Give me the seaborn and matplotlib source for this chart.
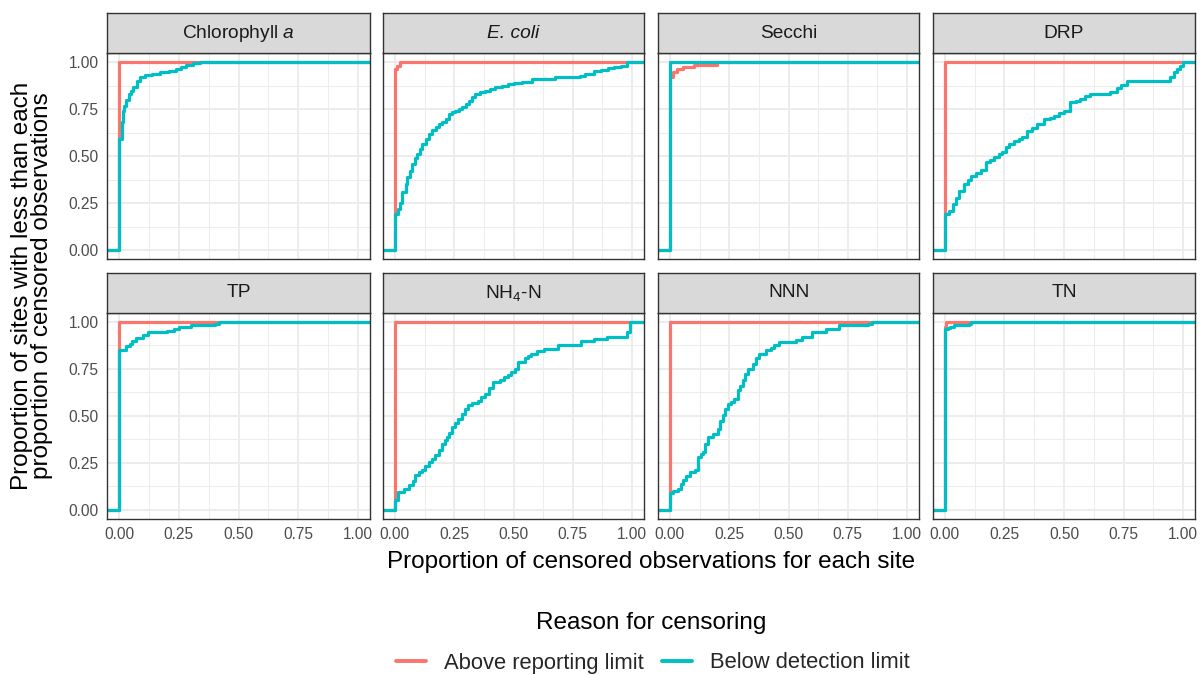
import numpy as np
import pandas as pd
import matplotlib
matplotlib.use("Agg")
import matplotlib.pyplot as plt
import seaborn as sns
from matplotlib.lines import Line2D

sns.set_style("white")
plt.rcParams["font.family"] = ["Liberation Sans", "DejaVu Sans"]
plt.rcParams["mathtext.fontset"] = "custom"
plt.rcParams["mathtext.rm"] = "Liberation Sans"
plt.rcParams["mathtext.it"] = "Liberation Sans:italic"

# ---------------- data ----------------
PARAMS = ["Chlorophyll a", "E. coli", "Secchi", "DRP", "TP", "NH4-N", "NNN", "TN"]
STRIP_LABELS = ["Chlorophyll $\\mathit{a}$", "E. coli", "Secchi", "DRP",
                "TP", "NH$_4$-N", "NNN", "TN"]
STRIP_STYLE = ["normal", "italic", "normal", "normal", "normal", "normal", "normal", "normal"]
REASONS = ["Above reporting limit", "Below detection limit"]
COLORS = ["#F8766D", "#00BFC4"]
TICKS = [0.0, 0.25, 0.5, 0.75, 1.0]
TICK_LABELS = ["0.00", "0.25", "0.50", "0.75", "1.00"]

# ECDF knots (proportion censored, cumulative proportion of sites)
chla_above_x = [0.0]
chla_above_y = [1.0]
chla_below_x = [0.0, 0.012, 0.016, 0.022, 0.03, 0.04, 0.05, 0.06, 0.075, 0.09, 0.11, 0.14,
                0.17, 0.21, 0.24, 0.26, 0.28, 0.31, 0.34]
chla_below_y = [0.59, 0.68, 0.74, 0.77, 0.80, 0.83, 0.85, 0.87, 0.90, 0.92, 0.935, 0.94,
                0.947, 0.956, 0.965, 0.975, 0.985, 0.995, 1.0]

ecoli_above_x = [0.0, 0.01, 0.02]
ecoli_above_y = [0.965, 0.98, 1.0]
ecoli_below_x = [0.0, 0.014, 0.02, 0.032, 0.045, 0.053, 0.065, 0.074, 0.085, 0.095, 0.105,
                 0.116, 0.13, 0.144, 0.158, 0.172, 0.186, 0.2, 0.215, 0.227, 0.24, 0.255,
                 0.27, 0.283, 0.3, 0.311, 0.325, 0.339, 0.36, 0.381, 0.4, 0.423, 0.45,
                 0.478, 0.5, 0.534, 0.576, 0.674, 0.757, 0.78, 0.8, 0.841, 0.87, 0.897,
                 0.925, 0.953, 0.98]
ecoli_below_y = [0.19, 0.22, 0.25, 0.31, 0.35, 0.39, 0.42, 0.46, 0.49, 0.51, 0.54,
                 0.565, 0.59, 0.62, 0.64, 0.655, 0.67, 0.68, 0.70, 0.725, 0.735, 0.742,
                 0.75, 0.76, 0.78, 0.796, 0.815, 0.83, 0.84, 0.849, 0.858, 0.867, 0.875,
                 0.885, 0.89, 0.897, 0.911, 0.92, 0.92, 0.93, 0.938, 0.956, 0.962, 0.97,
                 0.976, 0.982, 1.0]

secchi_above_x = [0.0, 0.012, 0.028, 0.056, 0.1, 0.2]
secchi_above_y = [0.92, 0.95, 0.965, 0.975, 0.987, 1.0]
secchi_below_x = [0.0]
secchi_below_y = [1.0]

drp_above_x = [0.0]
drp_above_y = [1.0]
drp_below_x = [0.0, 0.018, 0.032, 0.046, 0.06, 0.081, 0.095, 0.109, 0.13, 0.151, 0.172,
               0.19, 0.206, 0.225, 0.241, 0.255, 0.27, 0.29, 0.31, 0.325, 0.346, 0.365,
               0.388, 0.416, 0.44, 0.457, 0.48, 0.499, 0.527, 0.55, 0.569, 0.59, 0.611,
               0.694, 0.722, 0.74, 0.764, 0.876, 0.946, 0.96, 0.975, 0.988, 1.0]
drp_below_y = [0.19, 0.21, 0.245, 0.28, 0.316, 0.352, 0.375, 0.396, 0.41, 0.426, 0.467,
               0.48, 0.494, 0.51, 0.52, 0.547, 0.565, 0.583, 0.59, 0.6, 0.636, 0.65,
               0.671, 0.698, 0.705, 0.716, 0.73, 0.742, 0.787, 0.795, 0.805, 0.82, 0.831,
               0.844, 0.863, 0.88, 0.899, 0.902, 0.92, 0.947, 0.965, 0.982, 1.0]

tp_above_x = [0.0]
tp_above_y = [1.0]
tp_below_x = [0.0, 0.03, 0.045, 0.055, 0.07, 0.1, 0.12, 0.2, 0.23, 0.25, 0.3, 0.4, 0.42]
tp_below_y = [0.85, 0.87, 0.88, 0.90, 0.915, 0.93, 0.945, 0.95, 0.96, 0.973, 0.986, 0.991, 1.0]

nh4_above_x = [0.0]
nh4_above_y = [1.0]
nh4_below_x = [0.0, 0.014, 0.038, 0.059, 0.075, 0.086, 0.1, 0.114, 0.128, 0.142, 0.156,
               0.17, 0.184, 0.198, 0.21, 0.219, 0.23, 0.24, 0.255, 0.268, 0.282, 0.296,
               0.31, 0.324, 0.351, 0.365, 0.379, 0.395, 0.414, 0.442, 0.46, 0.477, 0.49,
               0.505, 0.519, 0.547, 0.56, 0.575, 0.6, 0.63, 0.686, 0.756, 0.784, 0.84,
               0.895, 0.979, 0.99]
nh4_below_y = [0.05, 0.094, 0.112, 0.13, 0.155, 0.183, 0.2, 0.21, 0.23, 0.254, 0.27,
               0.29, 0.32, 0.352, 0.37, 0.387, 0.41, 0.44, 0.46, 0.485, 0.51, 0.538,
               0.555, 0.57, 0.577, 0.6, 0.618, 0.65, 0.68, 0.693, 0.705, 0.716, 0.735,
               0.751, 0.787, 0.805, 0.82, 0.831, 0.845, 0.858, 0.876, 0.879, 0.897, 0.911,
               0.92, 0.945, 1.0]

nnn_above_x = [0.0]
nnn_above_y = [1.0]
nnn_below_x = [0.0, 0.014, 0.035, 0.045, 0.056, 0.07, 0.084, 0.105, 0.119, 0.13, 0.139,
               0.15, 0.16, 0.181, 0.202, 0.212, 0.223, 0.234, 0.244, 0.258, 0.272, 0.286,
               0.297, 0.307, 0.318, 0.328, 0.349, 0.363, 0.377, 0.404, 0.425, 0.439, 0.46,
               0.53, 0.558, 0.6, 0.656, 0.711, 0.837, 0.851]
nnn_below_y = [0.09, 0.1, 0.112, 0.135, 0.156, 0.18, 0.2, 0.21, 0.28, 0.295, 0.307,
               0.35, 0.387, 0.405, 0.43, 0.47, 0.503, 0.535, 0.565, 0.575, 0.59, 0.636,
               0.66, 0.69, 0.72, 0.751, 0.778, 0.805, 0.831, 0.849, 0.862, 0.876, 0.893,
               0.902, 0.92, 0.947, 0.964, 0.982, 0.991, 1.0]

tn_above_x = [0.0, 0.005]
tn_above_y = [0.975, 1.0]
tn_below_x = [0.0, 0.015, 0.02, 0.04, 0.1, 0.11]
tn_below_y = [0.962, 0.965, 0.975, 0.985, 0.99, 1.0]

ABOVE = [(chla_above_x, chla_above_y), (ecoli_above_x, ecoli_above_y),
         (secchi_above_x, secchi_above_y), (drp_above_x, drp_above_y),
         (tp_above_x, tp_above_y), (nh4_above_x, nh4_above_y),
         (nnn_above_x, nnn_above_y), (tn_above_x, tn_above_y)]
BELOW = [(chla_below_x, chla_below_y), (ecoli_below_x, ecoli_below_y),
         (secchi_below_x, secchi_below_y), (drp_below_x, drp_below_y),
         (tp_below_x, tp_below_y), (nh4_below_x, nh4_below_y),
         (nnn_below_x, nnn_below_y), (tn_below_x, tn_below_y)]

XLIM = (-0.05, 1.05)
YLIM = (-0.05, 1.05)

rows = []
for p, a, b in zip(PARAMS, ABOVE, BELOW):
    for reason, (xs, ys) in zip(REASONS, (a, b)):
        # ECDF padding to -Inf / +Inf
        rows.append((p, reason, XLIM[0], 0.0))
        for x, y in zip(xs, ys):
            rows.append((p, reason, x, y))
        rows.append((p, reason, XLIM[1], 1.0))
df = pd.DataFrame(rows, columns=["param", "reason", "x", "y"])

# ---------------- layout ----------------
W, H = 1202, 675
fig = plt.figure(figsize=(W / 100, H / 100), dpi=100)
fig.patch.set_facecolor("white")

COL_X = [(107, 370), (383, 644), (658, 919), (933, 1195)]
ROW_Y = [(53, 259.5), (312.5, 519)]
STRIP_H = 40

def fig_rect(x0, x1, y0, y1):
    return [x0 / W, 1 - y1 / H, (x1 - x0) / W, (y1 - y0) / H]

BORDER = "#333333"
for i, p in enumerate(PARAMS):
    r, c = divmod(i, 4)
    x0, x1 = COL_X[c]
    y0, y1 = ROW_Y[r]
    ax = fig.add_axes(fig_rect(x0, x1, y0, y1))
    ax.set_facecolor("white")
    sub = df[df["param"] == p]
    sns.lineplot(data=sub, x="x", y="y", hue="reason", hue_order=REASONS,
                 palette=COLORS, drawstyle="steps-post", estimator=None, sort=False,
                 linewidth=2.3, legend=False, ax=ax)
    ax.set_xlim(*XLIM)
    ax.set_ylim(*YLIM)
    ax.set_xticks(TICKS)
    ax.set_yticks(TICKS)
    ax.set_xticks([0.125, 0.375, 0.625, 0.875], minor=True)
    ax.set_yticks([0.125, 0.375, 0.625, 0.875], minor=True)
    ax.grid(True, which="major", color="#EBEBEB", linewidth=1.3)
    ax.grid(True, which="minor", color="#EBEBEB", linewidth=0.65)
    ax.set_axisbelow(True)
    ax.tick_params(which="minor", length=0)
    ax.tick_params(which="major", length=4, width=1.0, color=BORDER,
                   labelsize=11.2, labelcolor="#4D4D4D", pad=2)
    if r == 1:
        ax.set_xticklabels(TICK_LABELS)
    else:
        ax.tick_params(axis="x", which="both", bottom=False, labelbottom=False)
    if c == 0:
        ax.set_yticklabels(TICK_LABELS)
    else:
        ax.tick_params(axis="y", which="both", left=False, labelleft=False)
    ax.set_xlabel("")
    ax.set_ylabel("")
    for s in ax.spines.values():
        s.set_color(BORDER)
        s.set_linewidth(1.0)

    # strip
    sax = fig.add_axes(fig_rect(x0, x1, y0 - STRIP_H, y0))
    sax.set_facecolor("#D9D9D9")
    sax.set_xticks([])
    sax.set_yticks([])
    for s in sax.spines.values():
        s.set_color(BORDER)
        s.set_linewidth(1.0)
    sax.text(0.5, 0.5, STRIP_LABELS[i], ha="center", va="center",
             fontsize=13.8, color="#1A1A1A", style=STRIP_STYLE[i],
             transform=sax.transAxes)

# axis titles
fig.text(651 / W, 1 - 562 / H, "Proportion of censored observations for each site",
         ha="center", va="center", fontsize=17.5, color="black")
fig.text(32 / W, 1 - 286 / H,
         "Proportion of sites with less than each\nproportion of censored observations",
         ha="center", va="center", rotation=90, fontsize=17.5, color="black",
         linespacing=0.92)

# legend
fig.text(651 / W, 1 - 623 / H, "Reason for censoring", ha="center", va="center",
         fontsize=17.5, color="black")
handles = [Line2D([0], [0], color=col, lw=2.8) for col in COLORS]
fig.legend(handles, REASONS, loc="center", bbox_to_anchor=(653 / W, 1 - 663 / H),
           ncol=2, frameon=False, fontsize=15.8, handlelength=1.37,
           handletextpad=0.82, columnspacing=0.82, borderpad=0.0)

fig.savefig("out.png", dpi=100, facecolor="white")
